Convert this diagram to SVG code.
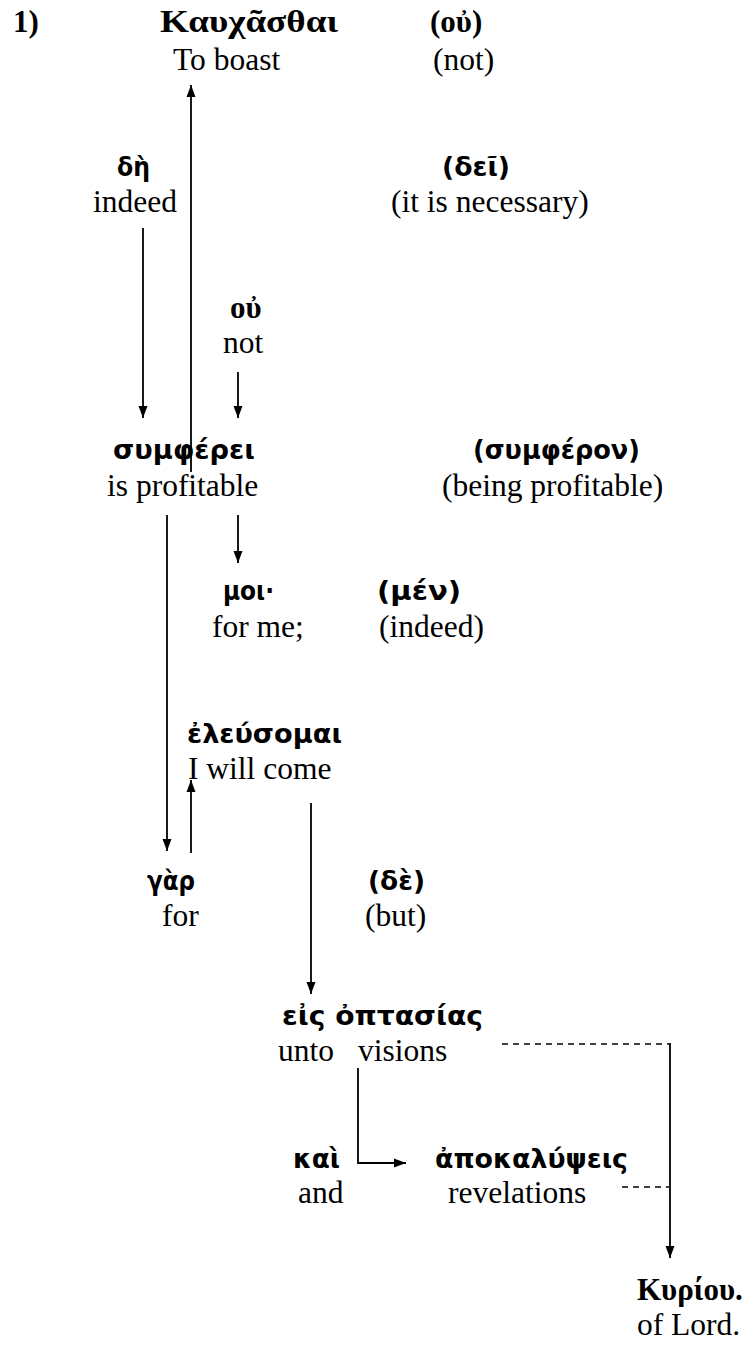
<svg xmlns="http://www.w3.org/2000/svg" width="753" height="1349" viewBox="0 0 753 1349">
<style>
.en{font-family:"Liberation Serif","Times New Roman",serif;font-size:31.5px;fill:#000}
.gs{font-family:"Liberation Serif","Times New Roman",serif;font-size:31px;font-weight:bold;fill:#000}
.gk{font-family:"DejaVu Sans","Noto Sans",sans-serif;font-size:27px;font-weight:bold;fill:#000}
.ln{stroke:#000;stroke-width:1.8;fill:none}
.ds{stroke:#000;stroke-width:1.6;fill:none;stroke-dasharray:6 5}
</style>
<defs>
<marker id="ah" viewBox="0 0 12 10" refX="12" refY="5" markerWidth="12" markerHeight="10" markerUnits="userSpaceOnUse" orient="auto">
<path d="M0,0.5 L12,5 L0,9.5 z" fill="#000"/>
</marker>
</defs>
<g id="connectors">
<line class="ln" x1="191" y1="472" x2="191" y2="85" marker-end="url(#ah)"/>
<line class="ln" x1="143" y1="228" x2="143" y2="418" marker-end="url(#ah)"/>
<line class="ln" x1="238" y1="372" x2="238" y2="418" marker-end="url(#ah)"/>
<line class="ln" x1="167" y1="515" x2="167" y2="851" marker-end="url(#ah)"/>
<line class="ln" x1="238" y1="515" x2="238" y2="563" marker-end="url(#ah)"/>
<line class="ln" x1="191" y1="853" x2="191" y2="780" marker-end="url(#ah)"/>
<line class="ln" x1="311" y1="803" x2="311" y2="994" marker-end="url(#ah)"/>
<polyline class="ln" points="358,1068 358,1163 406,1163" marker-end="url(#ah)"/>
<line class="ds" x1="502" y1="1044" x2="669" y2="1044"/>
<line class="ln" x1="670" y1="1043" x2="670" y2="1258" marker-end="url(#ah)"/>
<line class="ds" x1="622" y1="1187" x2="669" y2="1187"/>
</g>
<g id="label-1"><text class="gs" x="13" y="32">1)</text></g>
<g id="node-kauchasthai"><text class="gs" x="160" y="32" textLength="178" lengthAdjust="spacingAndGlyphs">Καυχᾶσθαι</text><text class="en" x="173" y="70">To boast</text></g>
<g id="node-ou-paren"><text class="gs" x="430" y="32">(οὐ)</text><text class="en" x="433" y="70">(not)</text></g>
<g id="node-de"><text class="gk" x="117" y="176" textLength="33" lengthAdjust="spacingAndGlyphs">δὴ</text><text class="en" x="93" y="212">indeed</text></g>
<g id="node-dei"><text class="gk" x="442" y="176" textLength="68" lengthAdjust="spacingAndGlyphs">(δεῖ)</text><text class="en" x="391" y="212">(it is necessary)</text></g>
<g id="node-ou"><text class="gs" x="230" y="318">οὐ</text><text class="en" x="223" y="353">not</text></g>
<g id="node-sympherei"><text class="gk" x="113" y="459" textLength="142" lengthAdjust="spacingAndGlyphs">συμφέρει</text><text class="en" x="107" y="496">is profitable</text></g>
<g id="node-sympheron"><text class="gk" x="473" y="459" textLength="167" lengthAdjust="spacingAndGlyphs">(συμφέρον)</text><text class="en" x="442" y="496">(being profitable)</text></g>
<g id="node-moi"><text class="gk" x="223" y="600" textLength="51" lengthAdjust="spacingAndGlyphs">μοι·</text><text class="en" x="212" y="637">for me;</text></g>
<g id="node-men"><text class="gk" x="377" y="600" textLength="84" lengthAdjust="spacingAndGlyphs">(μέν)</text><text class="en" x="379" y="637">(indeed)</text></g>
<g id="node-eleusomai"><text class="gk" x="187" y="743" textLength="155" lengthAdjust="spacingAndGlyphs">ἐλεύσομαι</text><text class="en" x="188" y="779">I will come</text></g>
<g id="node-gar"><text class="gk" x="147" y="890" textLength="48" lengthAdjust="spacingAndGlyphs">γὰρ</text><text class="en" x="162" y="926">for</text></g>
<g id="node-de2"><text class="gk" x="368" y="890" textLength="57" lengthAdjust="spacingAndGlyphs">(δὲ)</text><text class="en" x="365" y="926">(but)</text></g>
<g id="node-eis"><text class="gk" x="282" y="1025" textLength="201" lengthAdjust="spacingAndGlyphs">εἰς ὀπτασίας</text><text class="en" x="278" y="1061">unto</text><text class="en" x="358" y="1061">visions</text></g>
<g id="node-kai"><text class="gk" x="293" y="1168" textLength="47" lengthAdjust="spacingAndGlyphs">καὶ</text><text class="en" x="298" y="1203">and</text></g>
<g id="node-apokalypseis"><text class="gk" x="435" y="1168" textLength="193" lengthAdjust="spacingAndGlyphs">ἀποκαλύψεις</text><text class="en" x="448" y="1203">revelations</text></g>
<g id="node-kyriou"><text class="gs" x="637" y="1300">Κυρίου.</text><text class="en" x="637" y="1335">of Lord.</text></g>
</svg>
